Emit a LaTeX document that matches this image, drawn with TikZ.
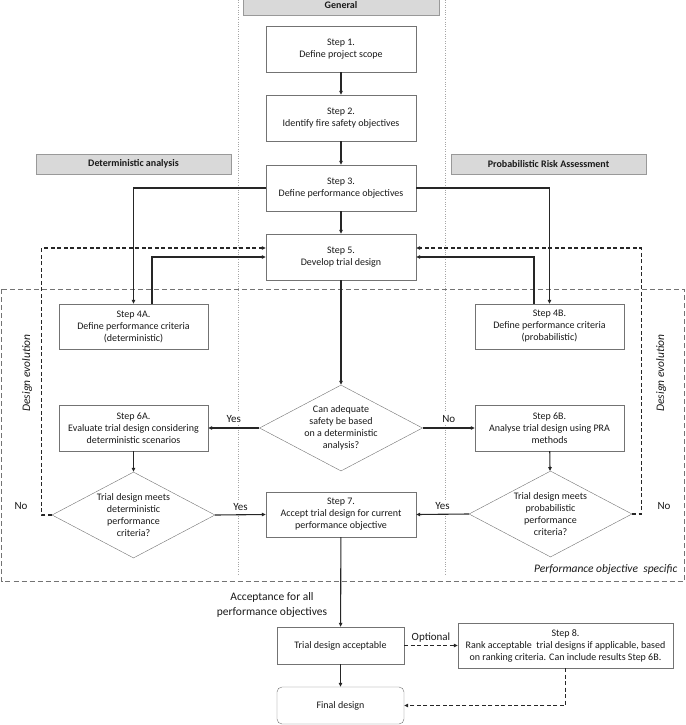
\documentclass[tikz,border=0pt]{standalone}
\usepackage{fontspec}
\setmainfont{Carlito}
\usepackage{xcolor}
\usepackage{tikz}
\usetikzlibrary{shapes,arrows.meta,positioning,calc}

\begin{document}
\begin{tikzpicture}[x=1pt,y=-1pt,
  every node/.style={font=\fontsize{10}{12}\selectfont, text=black!90},
  stepbox/.style={draw=black!55, fill=white, align=center, minimum width=150pt, minimum height=46pt, inner sep=1pt},
  header/.style={draw=black!40, fill=black!15, minimum width=196pt, minimum height=20pt, font=\fontsize{10}{12}\selectfont\bfseries},
  query/.style={diamond, draw=black!55, fill=white, align=center, minimum width=163pt, minimum height=86pt, inner sep=-4pt, shape aspect=1.9},
  flow/.style={-{Triangle[length=4pt,width=3.5pt]}, line width=1.1pt, draw=black!85},
  loopback/.style={flow, dash pattern=on 4pt off 2.5pt},
  lbl/.style={fill=white, inner sep=2pt, font=\fontsize{11}{13}\selectfont},
  note/.style={font=\fontsize{11.5}{15}\selectfont\itshape}]
\useasboundingbox (0,0) rectangle (685,725);

% Column guides
\draw[black!35, dotted] (238,0) -- (238,575);
\draw[black!35, dotted] (445,0) -- (445,575);

% Performance objective region
\draw[black!55, dash pattern=on 5pt off 3pt, line width=0.8pt] (1.5,289) rectangle (684,581);
\node[note, anchor=south east] (scope) at (681,578) {Performance objective\ \ specific};
\node[note, rotate=90] (evolA) at (27,373) {Design evolution};
\node[note, rotate=90] (evolB) at (661,373) {Design evolution};

% Column headers
\node[header] (gen) at (341,5) {General};
\node[header, minimum width=195pt] (det) at (133.5,164) {Deterministic analysis};
\node[header, minimum width=195pt] (pra) at (548.5,164) {Probabilistic Risk Assessment};

% General steps
\node[stepbox] (s1) at (341,49) {Step 1.\\Define project scope};
\node[stepbox] (s2) at (341,118) {Step 2.\\Identify fire safety objectives};
\node[stepbox] (s3) at (341,188) {Step 3.\\Define performance objectives};
\node[stepbox] (s5) at (341,257) {Step 5.\\Develop trial design};

% Criteria
\node[stepbox, minimum width=149pt, minimum height=45pt] (s4a) at (133.5,326.5) {Step 4A.\\Define performance criteria\\(deterministic)};
\node[stepbox, minimum width=149pt, minimum height=45pt] (s4b) at (549.5,326.5) {Step 4B.\\Define performance criteria\\(probabilistic)};

% Analysis
\node[query] (q1) at (341,428) {Can adequate\\safety be based\\on a deterministic\\analysis?};
\node[stepbox, minimum width=149pt] (s6a) at (133.5,428) {Step 6A.\\Evaluate trial design considering\\deterministic scenarios};
\node[stepbox, minimum width=149pt] (s6b) at (549.5,428) {Step 6B.\\Analyse trial design using PRA\\methods};
\node[query] (qa) at (133.5,515) {Trial design meets\\deterministic\\performance\\criteria?};
\node[query] (qb) at (550.5,514) {Trial design meets\\probabilistic\\performance\\criteria?};
\node[stepbox, minimum height=45pt] (s7) at (341,514.5) {Step 7.\\Accept trial design for current\\performance objective};

% Outcome
\node[stepbox, minimum width=127pt, minimum height=37pt] (tda) at (340.5,645.5) {Trial design acceptable};
\node[stepbox, minimum width=215pt, minimum height=45pt] (s8) at (565.5,645.5) {Step 8.\\Rank acceptable\ \ trial designs if applicable, based\\on ranking criteria. Can include results Step 6B.};
\node[stepbox, rounded corners=5pt, minimum width=127pt, minimum height=37pt] (fin) at (340.5,705.5) {Final design};
\node[lbl, align=center, fill=none, font=\fontsize{11.5}{15}\selectfont] (accall) at (272,604.5) {Acceptance for all\\performance objectives};
\node[lbl] (noA) at (21,506) {No};
\node[lbl] (noB) at (664,506) {No};

% Connectors
\draw[flow] (s1) -- (s2);
\draw[flow] (s2) -- (s3);
\draw[flow] (s3) -- (s5);
\draw[flow] (s3.west) -| (s4a.north);
\draw[flow] (s3.east) -| (s4b.north);
\draw[flow] ([xshift=18.5pt]s4a.north) |- (s5.west);
\draw[flow] ([xshift=-15.5pt]s4b.north) |- (s5.east);
\draw[flow] (s5) -- (q1);
\draw[flow] (q1.west) -- node[lbl, above=3pt] (yes1) {Yes} (s6a.east);
\draw[flow] (q1.east) -- node[lbl, above=3pt] (no1) {No} (s6b.west);
\draw[flow] (s6a) -- (qa);
\draw[flow] (s6b) -- (qb);
\draw[flow] (qa.east) -- node[lbl, above=2pt] (yes2) {Yes} (s7.west);
\draw[flow] (qb.west) -- node[lbl, above=2pt] (yes3) {Yes} (s7.east);
\draw[loopback] (qa.west) -- ++(-10,0) |- ([yshift=9pt]s5.west);
\draw[loopback] (qb.east) -- ++(9,0) |- ([yshift=9pt]s5.east);
\draw[flow] (s7) -- (tda);
\draw[flow] (tda) -- (fin);
\draw[loopback] (tda.east) -- node[lbl, above=1pt, fill=none] (opt) {Optional} (s8.west);
\draw[loopback] (s8.south) |- (fin.east);
\end{tikzpicture}
\end{document}
